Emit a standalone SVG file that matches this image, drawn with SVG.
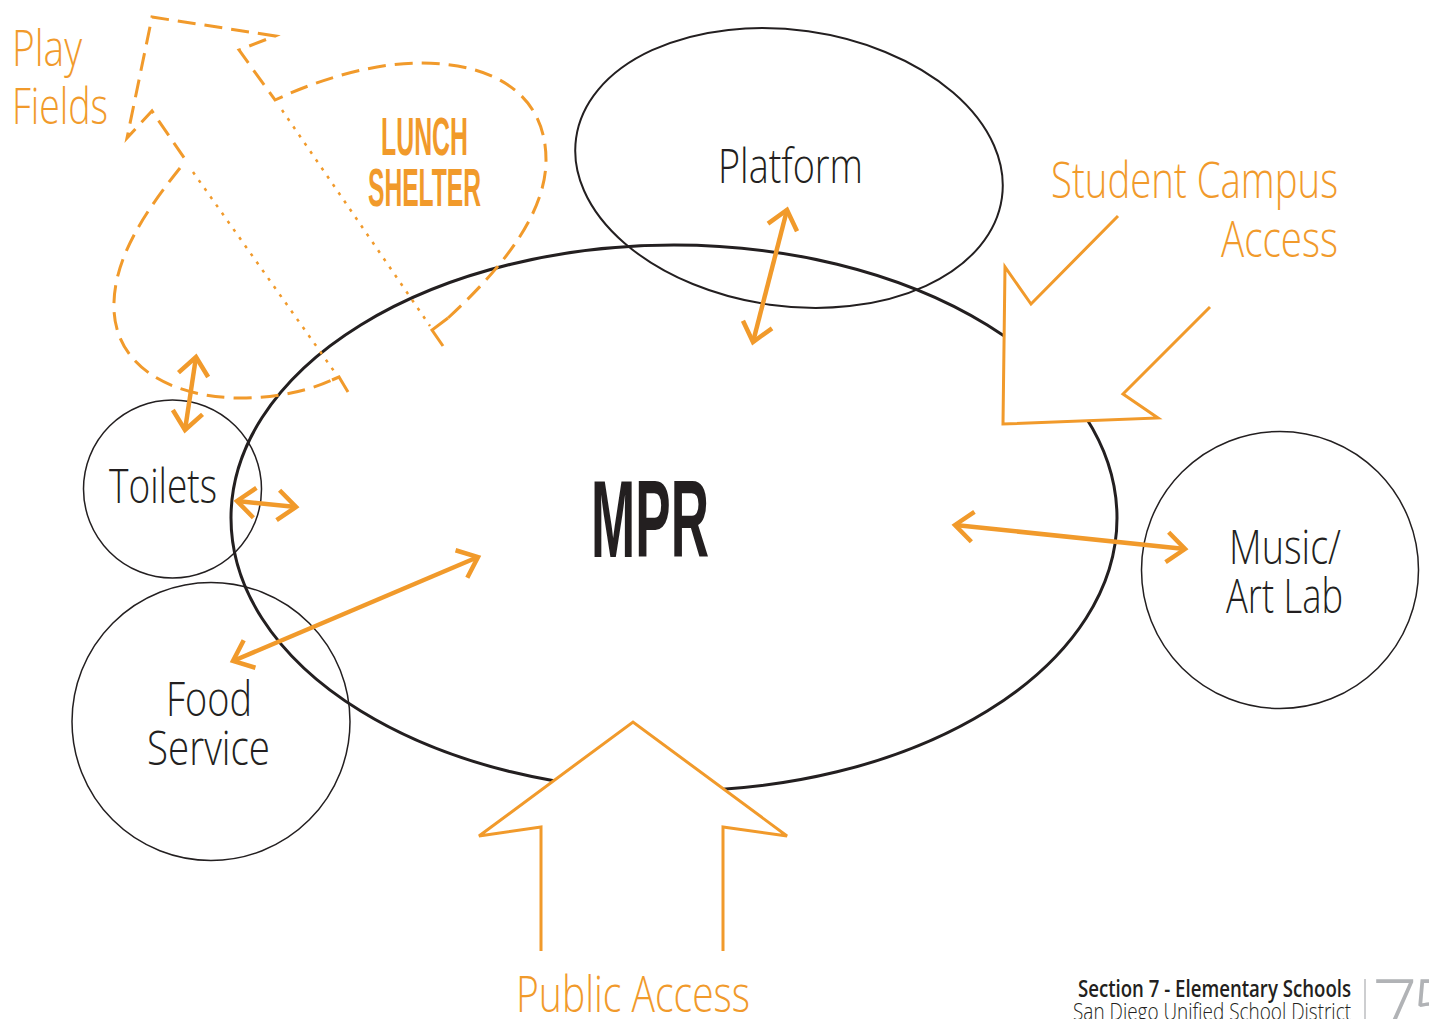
<svg xmlns="http://www.w3.org/2000/svg" width="1429" height="1019" viewBox="0 0 1429 1019">
<style>
.blk{fill:none;stroke:#231f20}
.lbl{font-family:"Open Sans","Liberation Sans",sans-serif;font-weight:300;fill:#231f20}
.olbl{font-family:"Open Sans","Liberation Sans",sans-serif;font-weight:300;fill:#f19a2b}
.cond{font-family:"Liberation Sans",Arial,sans-serif;font-weight:700}
.dash{fill:none;stroke:#f19a2b;stroke-width:3;stroke-dasharray:18 9}
.dot{fill:none;stroke:#f19a2b;stroke-width:2.5;stroke-dasharray:3 7}
.tick{fill:none;stroke:#f19a2b;stroke-width:3}
.conn{fill:none;stroke:#f19a2b;stroke-width:4.5;marker-start:url(#ah);marker-end:url(#ah)}
.big{fill:#fff;stroke:#f19a2b;stroke-width:3}
</style>
<defs>
<marker id="ah" markerUnits="userSpaceOnUse" viewBox="-30 -20 40 40" markerWidth="40" markerHeight="40" refX="0" refY="0" orient="auto-start-reverse" overflow="visible">
<path d="M-18,-15 L0,0 L-18,15" fill="none" stroke="#f19a2b" stroke-width="4.5"/>
</marker>
</defs>
<rect width="1429" height="1019" fill="#fff"/>

<g id="mpr">
<ellipse class="blk" cx="674" cy="518" rx="443" ry="273" stroke-width="3"/>
<text class="cond" x="591" y="557" font-size="110" fill="#231f20" textLength="118" lengthAdjust="spacingAndGlyphs">MPR</text>
</g>

<g id="platform">
<ellipse class="blk" cx="789" cy="168" rx="215" ry="138" transform="rotate(8 789 168)" stroke-width="2"/>
<text class="lbl" x="718" y="183" font-size="47" textLength="145" lengthAdjust="spacingAndGlyphs">Platform</text>
</g>

<g id="toilets">
<circle class="blk" cx="172.5" cy="489" r="89" stroke-width="1.5"/>
<text class="lbl" x="109" y="503" font-size="47" textLength="108" lengthAdjust="spacingAndGlyphs">Toilets</text>
</g>

<g id="food-service">
<circle class="blk" cx="211" cy="721.5" r="139" stroke-width="1.5"/>
<text class="lbl" x="166" y="716" font-size="47" textLength="86" lengthAdjust="spacingAndGlyphs">Food</text>
<text class="lbl" x="147" y="765" font-size="47" textLength="123" lengthAdjust="spacingAndGlyphs">Service</text>
</g>

<g id="music-art-lab">
<circle class="blk" cx="1280" cy="570" r="138.5" stroke-width="1.5"/>
<text class="lbl" x="1229" y="564" font-size="47" textLength="112" lengthAdjust="spacingAndGlyphs">Music/</text>
<text class="lbl" x="1226" y="613" font-size="47" textLength="117" lengthAdjust="spacingAndGlyphs">Art Lab</text>
</g>

<g id="lunch-shelter">
<path class="dash" d="M448,318 C500,270 546,215 546,160 C546,95 495,63 420,63 C375,63 325,78 286,95 L275,100 L239,50 L275,36 L152,17 L127,138 L152,111 L187,162"/>
<path class="dash" d="M180,168 C145,212 112,260 114,310 C116,360 160,395 235,398 C280,399 315,388 332,380"/>
<path class="tick" d="M448,318 L432,330 L443,346"/>
<path class="tick" d="M332,380 L339,377 L348,392"/>
<path class="dot" d="M282,110 L430,326"/>
<path class="dot" d="M193,172 L336,374"/>
<text class="cond" x="381" y="155" font-size="54" fill="#f19a2b" textLength="87" lengthAdjust="spacingAndGlyphs">LUNCH</text>
<text class="cond" x="368" y="206" font-size="54" fill="#f19a2b" textLength="113" lengthAdjust="spacingAndGlyphs">SHELTER</text>
</g>

<g id="play-fields">
<text class="olbl" x="12" y="66" font-size="50" textLength="70" lengthAdjust="spacingAndGlyphs">Play</text>
<text class="olbl" x="12" y="124" font-size="50" textLength="96" lengthAdjust="spacingAndGlyphs">Fields</text>
</g>

<g id="student-campus-access">
<path class="big" d="M1118,216 L1031,304 L1005,267 L1003,424 L1158,418 L1123,394 L1210,307"/>
<text class="olbl" x="1051" y="198" font-size="50" textLength="287" lengthAdjust="spacingAndGlyphs">Student Campus</text>
<text class="olbl" x="1221" y="257" font-size="50" textLength="117" lengthAdjust="spacingAndGlyphs">Access</text>
</g>

<g id="public-access">
<path class="big" d="M541,951 L541,827 L479,836 L633,722 L787,836 L723,827 L723,951"/>
<text class="olbl" x="516" y="1012" font-size="50" textLength="234" lengthAdjust="spacingAndGlyphs">Public Access</text>
</g>

<g id="connectors">
<line class="conn" x1="753" y1="342" x2="787" y2="210"/>
<line class="conn" x1="185" y1="430" x2="196" y2="357"/>
<line class="conn" x1="237" y1="501" x2="296" y2="507"/>
<line class="conn" x1="233" y1="661" x2="478" y2="557"/>
<line class="conn" x1="955" y1="525" x2="1185" y2="549"/>
</g>

<g id="footer">
<text x="1078" y="997" font-family="Open Sans, Liberation Sans, sans-serif" font-weight="600" font-size="23" fill="#231f20" textLength="273" lengthAdjust="spacingAndGlyphs">Section 7 - Elementary Schools</text>
<text x="1073" y="1020" font-family="Open Sans, Liberation Sans, sans-serif" font-weight="300" font-size="23" fill="#231f20" textLength="278" lengthAdjust="spacingAndGlyphs">San Diego Unified School District</text>
<line x1="1365" y1="979" x2="1365" y2="1019" stroke="#bcbec0" stroke-width="1.5"/>
<text x="1372 1411" y="1036" font-family="Open Sans, Liberation Sans, sans-serif" font-weight="300" font-size="80" fill="#b1b3b6">75</text>
</g>
</svg>
